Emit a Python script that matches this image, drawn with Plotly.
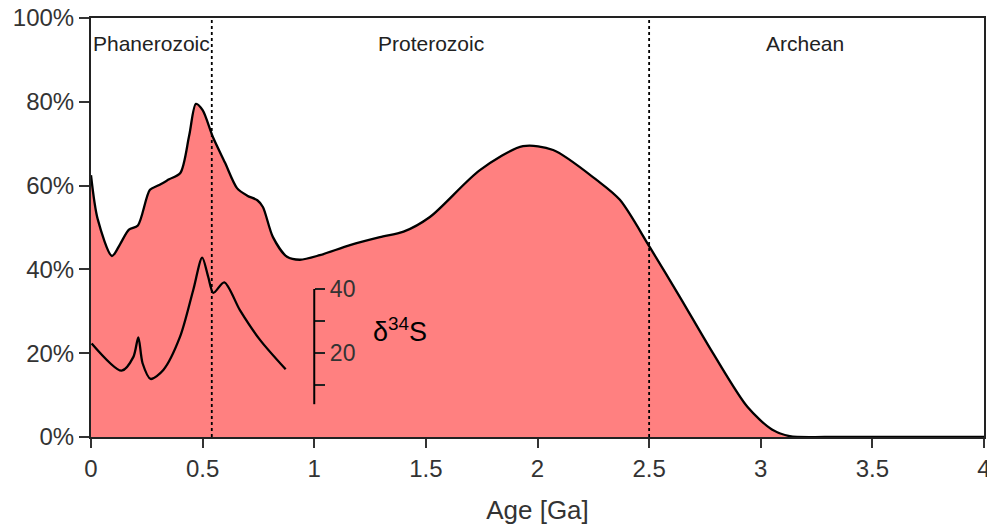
import plotly.graph_objects as go

# Main curve: percentage vs age (Ga)
age = [0.0, 0.03, 0.094, 0.13, 0.17, 0.21, 0.264, 0.30, 0.35, 0.40, 0.44, 0.47, 0.50,
       0.546, 0.60, 0.654, 0.70, 0.745, 0.77, 0.815, 0.878, 0.936, 1.025, 1.16, 1.294,
       1.40, 1.518, 1.742, 1.935, 2.07, 2.266, 2.369, 2.503, 2.638, 2.786, 2.94, 3.05,
       3.13, 3.3, 4.0]
pct = [62.5, 52.0, 43.2, 46.0, 49.5, 50.5, 59.0, 60.0, 61.5, 63.0, 72.0, 79.5, 78.0,
       71.6, 65.5, 59.4, 57.6, 56.5, 54.9, 47.7, 43.0, 42.3, 43.4, 45.8, 47.7,
       49.0, 52.5, 63.7, 69.4, 68.5, 61.3, 56.6, 45.3, 33.4, 20.0, 7.2, 1.8,
       0.2, 0.0, 0.0]

# delta34S curve (permil) vs age (Ga)
d34_age = [0.003, 0.137, 0.19, 0.212, 0.231, 0.267, 0.324, 0.399, 0.458, 0.498, 0.525,
           0.548, 0.597, 0.667, 0.757, 0.872]
d34_val = [23.0, 14.5, 18.8, 24.9, 16.8, 11.9, 14.7, 25.1, 39.7, 49.8, 43.8,
           38.8, 42.1, 33.4, 24.1, 14.9]

x_ticks = [0, 0.5, 1, 1.5, 2, 2.5, 3, 3.5, 4]
x_tick_labels = ["0", "0.5", "1", "1.5", "2", "2.5", "3", "3.5", "4"]
y_ticks = [0, 20, 40, 60, 80, 100]
y_tick_labels = ["0%", "20%", "40%", "60%", "80%", "100%"]
d34_ticks = [20, 40]
d34_tick_labels = ["20", "40"]
d34_minor_ticks = [10, 30]
d34_range = [-6.25, 124.7]

eras = ["Phanerozoic", "Proterozoic", "Archean"]
era_pos = [0.273, 1.525, 3.2]
boundaries = [0.541, 2.5]

FONT = "Liberation Sans, Arial, sans-serif"
TXT = "#333333"

fig = go.Figure()
fig.add_trace(go.Scatter(
    x=age, y=pct, mode="lines", line=dict(color="black", width=2.3, shape="spline", smoothing=0.8),
    fill="tozeroy", fillcolor="rgb(255,128,128)", showlegend=False, hoverinfo="skip"))
fig.add_trace(go.Scatter(
    x=d34_age, y=d34_val, yaxis="y2", mode="lines",
    line=dict(color="black", width=2.3, shape="spline", smoothing=0.8),
    showlegend=False, hoverinfo="skip"))

for b in boundaries:
    fig.add_shape(type="line", x0=b, x1=b, y0=0, y1=100, xref="x", yref="y",
                  line=dict(color="black", width=1.8, dash="dot"), layer="above")

# delta34S axis line
fig.add_shape(type="line", x0=1, x1=1, y0=4, y1=40, xref="x", yref="y2",
              line=dict(color="black", width=2), layer="above")

for name, xp in zip(eras, era_pos):
    fig.add_annotation(x=xp, y=94, xref="x", yref="y", text=name, showarrow=False,
                       font=dict(family=FONT, size=21, color="#222222"))

fig.add_annotation(x=1.255, y=25.5, xref="x", yref="y", text="δ<sup>34</sup>S",
                   showarrow=False, xanchor="left",
                   font=dict(family=FONT, size=27, color="black"))

fig.update_layout(
    width=987, height=525,
    margin=dict(l=91, r=3, t=18, b=88),
    paper_bgcolor="white", plot_bgcolor="white",
    font=dict(family=FONT, color=TXT),
    xaxis=dict(range=[0, 4], tickvals=x_ticks, ticktext=x_tick_labels, automargin=False,
               ticklabeloverflow="allow",
               ticks="outside", ticklen=9, tickwidth=2, tickcolor="#333",
               showline=True, linecolor="#222", linewidth=2, mirror=True,
               showgrid=False, zeroline=False, tickfont=dict(size=24, color=TXT),
               title=dict(text="Age [Ga]", font=dict(size=26, color=TXT), standoff=20)),
    yaxis=dict(range=[0, 100], tickvals=y_ticks, ticktext=y_tick_labels, automargin=False,
               ticklabeloverflow="allow",
               ticks="outside", ticklen=10, tickwidth=2, tickcolor="#333",
               showline=True, linecolor="#222", linewidth=2, mirror=True,
               showgrid=False, zeroline=False, tickfont=dict(size=24, color=TXT)),
    yaxis2=dict(range=d34_range, overlaying="y", anchor="free", position=0.25, side="right",
                automargin=False,
                tickvals=d34_ticks, ticktext=d34_tick_labels, ticks="outside",
                ticklen=10, tickwidth=2, tickcolor="#222", showline=False,
                minor=dict(tickmode="array", tickvals=d34_minor_ticks, ticks="outside",
                           ticklen=10, tickwidth=2, tickcolor="#222", showgrid=False),
                showgrid=False, zeroline=False, tickfont=dict(size=23, color=TXT)),
)

fig.write_html("out.html", config={"displayModeBar": False},
               post_script="document.body.style.margin='0';document.body.style.overflow='hidden';")
